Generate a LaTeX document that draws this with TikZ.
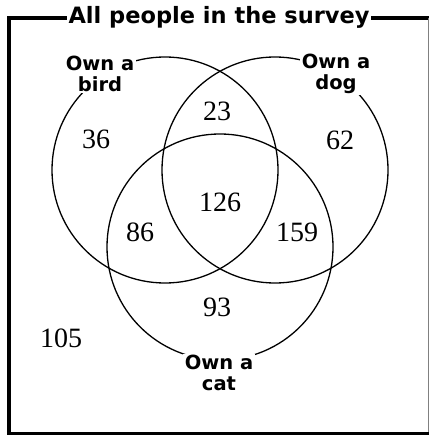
\documentclass[tikz,border=0pt]{standalone}
\usepackage{fontspec}
\setmainfont{Liberation Serif}
\newfontfamily\labfont{DejaVu Sans}
\begin{document}
\begin{tikzpicture}[x=1pt,y=-1pt,
  set/.style={circle,draw,line width=1.3pt,minimum size=226pt,inner sep=0pt},
  num/.style={font=\fontsize{28}{28}\selectfont,inner sep=0pt},
  lbl/.style={font=\labfont\bfseries\fontsize{19.5}{21}\selectfont,align=center,fill=white,inner sep=1.5pt},
  ttl/.style={font=\labfont\bfseries\fontsize{22.5}{24}\selectfont,fill=white,inner xsep=2pt,inner ysep=1pt},
  frame/.style={line width=4pt}]
\useasboundingbox (0,0) rectangle (429,435);
\coordinate (tl) at (9,18);
\coordinate (tr) at (429,18);
\coordinate (bl) at (9,433.5);
\coordinate (br) at (429,433.5);
\draw[frame] (bl) -- (tl) -- (tr);
\draw[frame,line width=3pt] (7,433.5) -- (br);
\draw[gray,line width=1pt] (428,18) -- (428,432);
\node[set] (bird) at (165,170) {};
\node[set] (dog) at (275,170) {};
\node[set] (cat) at (220,247) {};
\node[ttl] (title) at (219,17) {All people in the survey};
\node[lbl] (lbird) at (100,74) {Own a\\bird};
\node[lbl] (ldog) at (336,74) {Own a\\dog};
\node[lbl] (lcat) at (219,373) {Own a\\cat};
\node[num] (n36) at (96,139) {36};
\node[num] (n62) at (340,140) {62};
\node[num] (n23) at (217,111) {23};
\node[num] (n126) at (220,202) {126};
\node[num] (n86) at (140,232) {86};
\node[num] (n159) at (297,232) {159};
\node[num] (n93) at (217,307) {93};
\node[num] (n105) at (61,338) {105};
\end{tikzpicture}
\end{document}
